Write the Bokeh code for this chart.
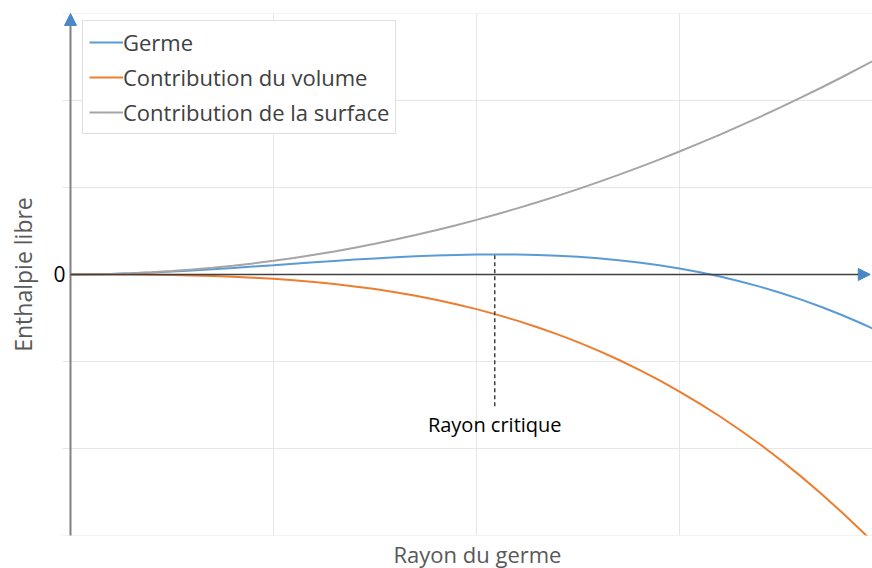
import math
from bokeh.plotting import figure
from bokeh.models import (Arrow, NormalHead, FixedTicker, Legend, LegendItem,
                          ColumnDataSource, Range1d, Label, BoxAnnotation, Grid)
from bokeh.core.properties import value
from bokeh.embed import file_html
from bokeh.resources import INLINE

# --- data ---
rayon = [0.0, 0.1, 0.2, 0.3, 0.4, 0.5, 0.6, 0.7, 0.8, 0.9, 1.0, 1.1, 1.2, 1.3,
         1.4, 1.5, 1.6, 1.7, 1.8, 1.9, 2.0, 2.1, 2.2, 2.3, 2.4, 2.5, 2.6, 2.7,
         2.8, 2.9, 3.0, 3.1, 3.2, 3.3, 3.4, 3.5, 3.6, 3.7, 3.8, 3.9, 3.95]
surface = [0.0, 0.002, 0.006, 0.014, 0.025, 0.039, 0.057, 0.077, 0.100, 0.127,
           0.157, 0.190, 0.226, 0.265, 0.308, 0.353, 0.402, 0.454, 0.509, 0.567,
           0.628, 0.692, 0.760, 0.831, 0.904, 0.981, 1.061, 1.145, 1.231, 1.320,
           1.413, 1.509, 1.608, 1.710, 1.815, 1.923, 2.035, 2.149, 2.267, 2.388,
           2.450]
volume = [0.0, -0.000, -0.000, -0.001, -0.003, -0.006, -0.011, -0.017, -0.026,
          -0.036, -0.050, -0.066, -0.086, -0.109, -0.137, -0.168, -0.204, -0.245,
          -0.290, -0.342, -0.398, -0.461, -0.530, -0.606, -0.688, -0.778, -0.875,
          -0.980, -1.093, -1.215, -1.345, -1.484, -1.632, -1.790, -1.957, -2.135,
          -2.323, -2.523, -2.733, -2.954, -3.069]
germe = [0.0, 0.002, 0.006, 0.013, 0.022, 0.033, 0.046, 0.060, 0.075, 0.091,
         0.107, 0.124, 0.140, 0.156, 0.171, 0.185, 0.198, 0.209, 0.218, 0.225,
         0.230, 0.231, 0.230, 0.225, 0.216, 0.203, 0.186, 0.164, 0.138, 0.106,
         0.068, 0.025, -0.024, -0.080, -0.142, -0.212, -0.289, -0.373, -0.466,
         -0.566, -0.620]
rayon_critique_x = [2.09, 2.09]
rayon_critique_y = [0.22, -1.52]
series_names = ["Germe", "Contribution du volume", "Contribution de la surface"]
colors = ["#5b9bd5", "#ed7d31", "#a5a5a5"]
x_grid_ticks = [1, 2, 3]
y_grid_ticks = [-3, -2, -1, 1, 2, 3]
y_tick_label = "0"
x_title = "Rayon du germe"
y_title = "Enthalpie libre"

FONT = "Open Sans"

# plotting area: x 0..3.95 (70..872 px), y -3..3 (13..535 px); the strips
# around it hold the titles
p = figure(width=872, height=568, output_backend="svg", toolbar_location=None,
           x_range=Range1d(-0.3448, 3.951), y_range=Range1d(-3.379, 3.149),
           min_border=0, x_axis_type=None, y_axis_type=None)
p.outline_line_color = None
p.background_fill_color = "white"

# grid
p.add_layout(Grid(dimension=0, ticker=FixedTicker(ticks=x_grid_ticks),
                  grid_line_color="#e6e6e6"))
p.add_layout(Grid(dimension=1, ticker=FixedTicker(ticks=y_grid_ticks),
                  grid_line_color="#e6e6e6"))

# white strips outside the plotting area (clip grid and curves)
for kw in (dict(right=-0.04), dict(top=-3.0), dict(bottom=3.0)):
    p.add_layout(BoxAnnotation(fill_color="white", fill_alpha=1, line_color=None,
                               level="annotation", **kw))

# texts of the axes
p.add_layout(Label(x=-0.054, y=0, text=y_tick_label, text_font=FONT,
                   text_font_size="21px", text_color="#000000",
                   text_align="center", text_baseline="middle"))
p.add_layout(Label(x=-0.232, y=0.0, text=y_title, angle=math.pi / 2,
                   text_font=FONT, text_font_size="23px", text_color="#595959",
                   text_align="center", text_baseline="middle"))
p.add_layout(Label(x=2.005, y=-3.207, text=x_title,
                   text_font=FONT, text_font_size="22px", text_color="#595959",
                   text_align="center", text_baseline="middle"))

# axis arrows
p.add_layout(Arrow(end=NormalHead(size=12, fill_color="#4a86c8", line_color="#4a86c8"),
                   x_start=0, y_start=-3, x_end=0, y_end=3.0,
                   line_color="#808080", line_width=2))
p.add_layout(Arrow(end=NormalHead(size=12, fill_color="#4a86c8", line_color="#4a86c8"),
                   x_start=0, y_start=0, x_end=3.94, y_end=0,
                   line_color="#404040", line_width=1.5))

# curves
src = ColumnDataSource(dict(x=rayon, g=germe, v=volume, s=surface))
r_g = p.line("x", "g", source=src, line_color=colors[0], line_width=2)
r_v = p.line("x", "v", source=src, line_color=colors[1], line_width=2)
r_s = p.line("x", "s", source=src, line_color=colors[2], line_width=2)

# critical radius
p.line(rayon_critique_x, rayon_critique_y, line_color="#404040", line_width=1.5,
       line_dash="4 3")
p.text(x=[rayon_critique_x[0]], y=[-1.72], text=["Rayon critique"],
       text_font=value(FONT), text_font_size="20px", text_color="#000000",
       text_align="center", text_baseline="middle")

legend = Legend(items=[LegendItem(label=series_names[0], renderers=[r_g]),
                       LegendItem(label=series_names[1], renderers=[r_v]),
                       LegendItem(label=series_names[2], renderers=[r_s])],
                location=(82, 434))
legend.margin = 0
legend.padding = 6
legend.spacing = 5
legend.glyph_width = 34
legend.glyph_height = 22
legend.label_height = 22
legend.label_standoff = 0
legend.label_text_font = FONT
legend.label_text_font_size = "22px"
legend.label_text_color = "#404040"
legend.border_line_color = "#bfbfbf"
legend.border_line_width = 1
legend.background_fill_color = "white"
legend.background_fill_alpha = 1
p.add_layout(legend)

open("out.html", "w").write(file_html(p, INLINE))
